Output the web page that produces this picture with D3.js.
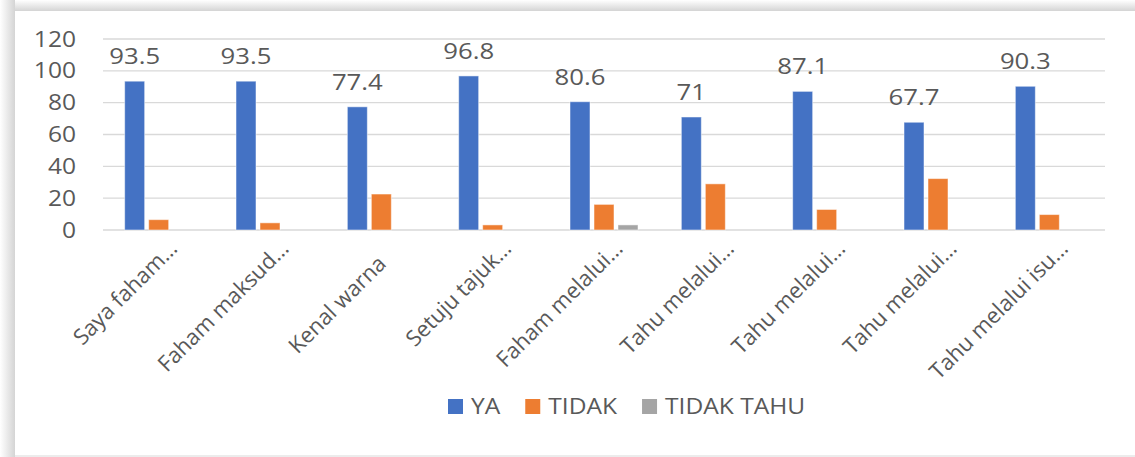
<!DOCTYPE html>
<meta charset="utf-8">
<style>
body {
    margin: 0;
    background: #fff;
}
text {
    font-family: "Open Sans", sans-serif;
    fill: #595959;
}
.grid line {
    stroke: #d9d9d9;
    stroke-width: 1.4px;
}
.bar {
    stroke: #fff;
    stroke-opacity: 0.5;
    stroke-width: 1px;
}
</style>
<svg width="1135" height="457"></svg>

<script src="https://cdnjs.cloudflare.com/ajax/libs/d3/7.8.5/d3.min.js"></script>
<script>
const categories = ['Saya faham…', 'Faham maksud…', 'Kenal warna', 'Setuju tajuk…',
    'Faham melalui…', 'Tahu melalui…', 'Tahu melalui…', 'Tahu melalui…', 'Tahu melalui isu…'];
const seriesNames = ['YA', 'TIDAK', 'TIDAK TAHU'];
const ya = [93.5, 93.5, 77.4, 96.8, 80.6, 71, 87.1, 67.7, 90.3];
const tidak = [6.5, 4.5, 22.6, 3.2, 16.1, 29, 12.9, 32.3, 9.7];
const tidakTahu = [0, 0, 0, 0, 3.2, 0, 0, 0, 0];
const yTicks = [0, 20, 40, 60, 80, 100, 120];
const colors = ['#4472c4', '#ed7d31', '#a5a5a5'];

// the source text is a bit wider than Open Sans
const stretch = 1.17;

let svg = d3.select('svg');

// frame with soft shadow on top / left
let defs = svg.append('defs');
let gl = defs.append('linearGradient').attr('id', 'shl');
gl.append('stop').attr('offset', '0%').attr('stop-color', '#fff');
gl.append('stop').attr('offset', '100%').attr('stop-color', '#d4d4d4');
let gt = defs.append('linearGradient').attr('id', 'sht').attr('x2', 0).attr('y2', 1);
gt.append('stop').attr('offset', '0%').attr('stop-color', '#fff');
gt.append('stop').attr('offset', '100%').attr('stop-color', '#d4d4d4');
svg.append('rect').attr('x', 0).attr('y', 0).attr('width', 1135).attr('height', 11).attr('fill', 'url(#sht)');
svg.append('rect').attr('x', 0).attr('y', 0).attr('width', 15).attr('height', 457).attr('fill', 'url(#shl)');
svg.append('rect').attr('x', 15).attr('y', 11).attr('width', 1120).attr('height', 444)
    .attr('fill', '#fff');
svg.append('line').attr('x1', 15).attr('x2', 1135).attr('y1', 456).attr('y2', 456)
    .attr('stroke', '#e6e6e6').attr('stroke-width', 1.5);

let x = d3.scaleBand()
    .domain(d3.range(categories.length))
    .range([103, 1105]);

let y = d3.scaleLinear()
    .domain([0, 120])
    .range([230, 39]);

let inner = d3.scaleBand()
    .domain(d3.range(seriesNames.length))
    .range([0, 68])
    .paddingInner(4 / 24);

let groupX = i => x(i) + x.bandwidth() / 2 - 34;

// gridlines
svg.append('g').attr('class', 'grid')
    .selectAll('line')
    .data(yTicks)
    .enter().append('line')
        .attr('x1', 103).attr('x2', 1105)
        .attr('y1', d => y(d)).attr('y2', d => y(d));

// y tick labels
svg.append('g')
    .selectAll('text')
    .data(yTicks)
    .enter().append('text')
        .attr('transform', d => `translate(76,${y(d)}) scale(${stretch},1)`)
        .attr('dy', '0.36em')
        .attr('text-anchor', 'end')
        .style('font-size', '21px')
        .text(d => d);

let series = [ya, tidak, tidakTahu];
series.forEach((vals, s) => {
    svg.append('g')
        .selectAll('rect')
        .data(vals)
        .enter().append('rect')
            .attr('class', 'bar')
            .attr('x', (d, i) => groupX(i) + inner(s))
            .attr('width', inner.bandwidth())
            .attr('y', d => y(d))
            .attr('height', d => y(0) - y(d))
            .attr('fill', colors[s])
            .style('display', d => d > 0 ? null : 'none');
});

// data labels on YA
svg.append('g')
    .selectAll('text')
    .data(ya)
    .enter().append('text')
        .attr('transform', (d, i) =>
            `translate(${groupX(i) + inner(0) + inner.bandwidth() / 2},${y(d) - 17}) scale(${stretch},1)`)
        .attr('text-anchor', 'middle')
        .style('font-size', '22px')
        .text(d => d);

// category labels
svg.append('g')
    .selectAll('text')
    .data(categories)
    .enter().append('text')
        .attr('text-anchor', 'end')
        .attr('transform', (d, i) => {
            let cut = d.endsWith('…');
            let cx = x(i) + x.bandwidth() / 2 + (cut ? 20 : 6);
            return `translate(${cx},${cut ? 250 : 265}) rotate(-45)`;
        })
        .style('font-size', '22px')
        .text(d => d);

// legend
let lg = svg.append('g');
let lx = 448;
seriesNames.forEach((name, s) => {
    lg.append('rect')
        .attr('x', lx).attr('y', 399)
        .attr('width', 15).attr('height', 15)
        .attr('fill', colors[s]);
    let t = lg.append('text')
        .attr('transform', `translate(${lx + 23},414) scale(${stretch},1)`)
        .style('font-size', '21px')
        .text(name);
    lx += 23 + t.node().getComputedTextLength() * stretch + 25;
});
</script>
